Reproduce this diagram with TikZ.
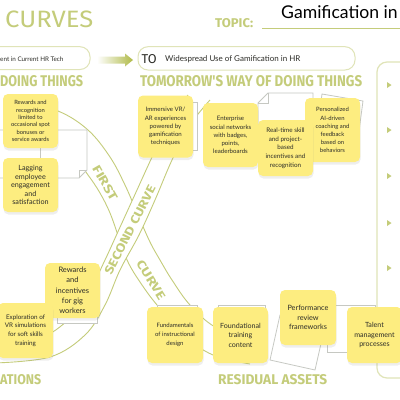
\documentclass[tikz,border=0pt]{standalone}
\usepackage{fontspec}
\setmainfont{Lato}
\newfontfamily\headfont{Fira Sans}
\usetikzlibrary{shadows}
\definecolor{olive}{RGB}{196,204,122}
\definecolor{olivelt}{RGB}{224,228,184}
\definecolor{olivedk}{RGB}{176,186,72}
\definecolor{sticky}{RGB}{253,237,128}
\definecolor{sheetc}{RGB}{198,200,194}
\definecolor{inkc}{RGB}{45,45,40}
\tikzset{
  note/.style={fill=sticky, rounded corners=5pt, align=center, inner sep=0pt, text=inkc,
    drop shadow={opacity=0.13, shadow xshift=0.5pt, shadow yshift=-2.5pt}},
  sheetbox/.style={draw=sheetc, fill=white, line width=0.8pt},
  curveline/.style={draw=olive, line width=0.9pt},
  head/.style={text=olive, inner sep=0pt, font=\headfont\bfseries},
  topbox/.style={draw=olivelt, line width=1pt, rounded corners=10pt},
  bandtext/.style={text=olive, inner sep=0pt, font=\headfont\bfseries}
}
\begin{document}
\begin{tikzpicture}[x=1pt,y=-1pt]
\useasboundingbox (0,0) rectangle (400,400);
\clip (0,0) rectangle (400,400);
\fill[white] (0,0) rectangle (400,400);

% title row
\node[head, font=\headfont, anchor=south west] (title) at (5,28.3) {\resizebox{88pt}{16.6pt}{CURVES}};
\node[head, anchor=south west] (topic) at (215,28.3) {\resizebox{38pt}{9pt}{TOPIC:}};
\coordinate (tl1) at (262,28.3);
\coordinate (tl2) at (400,28.3);
\draw[draw=olive, line width=0.8pt] (tl1) -- (tl2);
\node[anchor=base west, inner sep=0pt, font=\fontsize{17.6}{19}\selectfont, text=black] (topictext) at (281,18) {Gamification in};

% from / to boxes
\draw[topbox] (-15,46.7) rectangle (90,69.5);
\node[anchor=west, inner sep=0pt, font=\fontsize{6.3}{7}\selectfont, text=inkc] (fromtext) at (0,59) {ent in Current HR Tech};
\shade[left color=white, right color=olivedk] (97,56.5) -- (125,56.5) -- (125,53.5) -- (133,60) -- (125,66.5) -- (125,63.5) -- (97,63.5) -- cycle;
\draw[topbox] (138,46.7) rectangle (355,70);
\node[anchor=west, inner sep=0pt, text=inkc, font=\headfont] (tolabel) at (141.5,59) {\resizebox{15pt}{9pt}{TO}};
\node[anchor=west, inner sep=0pt, font=\fontsize{8}{9}\selectfont, text=inkc] (totext) at (165,59) {Widespread Use of Gamification in HR};

% section headings
\node[head, anchor=south west] (h1) at (0,87) {\resizebox{83pt}{11pt}{DOING THINGS}};
\node[head, anchor=south west] (h2) at (140,87) {\resizebox{222pt}{11pt}{TOMORROW'S WAY OF DOING THINGS}};
\node[head, anchor=south west] (h3) at (0,385) {\resizebox{41pt}{10pt}{ATIONS}};
\node[head, anchor=south west] (h4) at (218,385) {\resizebox{109pt}{10pt}{RESIDUAL ASSETS}};

% right panel
\draw[topbox, line width=1.2pt] (377,62) rectangle (430,378);
\foreach \yy [count=\i] in {85,130,176,223,268}{
  \fill[olive] (387,\yy-3) -- (391.5,\yy) -- (387,\yy+3) -- cycle;
}

% first curve band
\draw[curveline] plot[smooth, tension=0.6] coordinates {(15,100) (58,111) (88,130) (110,157) (125,185) (138,215) (150,242) (160,260) (172,280) (190,305) (215,327) (250,340)};
\draw[curveline] plot[smooth, tension=0.6] coordinates {(40,140) (75,160) (88,175) (100,193) (110,213) (119,238) (128,262) (140,282) (157,305) (185,336) (213,355) (250,364)};
\node[bandtext, rotate=-60] (first) at (105,183) {\resizebox{38pt}{8.5pt}{FIRST}};
\node[bandtext, rotate=-58] (curve1) at (151,280) {\resizebox{44pt}{8.5pt}{CURVE}};

% second curve band (ribbon over the first)
\fill[white] plot[smooth, tension=0.6] coordinates {(-5,343) (40,338) (70,318) (90,290) (105,260) (121,225) (137,190) (153,155) (170,120) (188,95)}
  -- plot[smooth, tension=0.6] coordinates {(210,100) (190,125) (172,160) (155,200) (139,235) (120,270) (105,305) (85,335) (50,357) (-5,363)} -- cycle;
\draw[curveline] plot[smooth, tension=0.6] coordinates {(-5,343) (40,338) (70,318) (90,290) (105,260) (121,225) (137,190) (153,155) (170,120) (188,95)};
\draw[curveline] plot[smooth, tension=0.6] coordinates {(-5,363) (50,357) (85,335) (105,305) (120,270) (139,235) (155,200) (172,160) (190,125) (210,100)};
\node[bandtext, rotate=63] (second) at (130,230) {\resizebox{98pt}{8.5pt}{SECOND CURVE}};

% grey sheets
\draw[sheetbox] (-5,130) -- (87,130) -- (87,170) -- (79,178) -- (-5,178) -- cycle;
\draw[sheetc, line width=0.8pt] (79,178) -- (79,170) -- (87,170);
\draw[sheetc, line width=0.8pt] (40,130) -- (40,178);
\draw[sheetbox] (150,102) rectangle (197,150);
\draw[sheetbox] (268,93) -- (313,93) -- (313,125) -- (258,125) -- (258,103) -- cycle;
\draw[sheetc, line width=0.8pt] (258,103) -- (268,103) -- (268,93);
\draw[sheetbox] (322,94) -- (363,101) -- (357,146) -- (316,139) -- cycle;
\draw[sheetbox] (57,270) rectangle (97,323);
\draw[sheetbox] (157,305) rectangle (197,345);
\draw[sheetbox] (218,305) rectangle (265,345);
\draw[sheetbox] (280,315) -- (325,326) -- (315,370) -- (270,360) -- cycle;
\draw[sheetbox] (327,305) rectangle (375,352);

% sticky notes
\node[note, minimum width=55pt, minimum height=54pt, font=\fontsize{5.8}{7.4}\selectfont] (n1) at (30.5,121) {Rewards and\\recognition\\limited to\\occasional spot\\bonuses or\\service awards};
\node[note, minimum width=55pt, minimum height=54pt, font=\fontsize{7.2}{8.6}\selectfont] (n2) at (30.5,185) {Lagging\\employee\\engagement\\and\\satisfaction};
\node[note, minimum width=55pt, minimum height=62pt, font=\fontsize{6.1}{8.2}\selectfont] (n3) at (165.5,126.5) {Immersive VR/\\AR experiences\\powered by\\gamification\\techniques};
\node[note, minimum width=55pt, minimum height=64pt, font=\fontsize{6.1}{8.2}\selectfont] (n4) at (230.5,135) {Enterprise\\social networks\\with badges,\\points,\\leaderboards};
\node[note, minimum width=55pt, minimum height=64pt, font=\fontsize{5.9}{8.1}\selectfont] (n6) at (332.5,130) {Personalized\\AI-driven\\coaching and\\feedback\\based on\\behaviors};
\node[note, minimum width=55pt, minimum height=56pt, font=\fontsize{6.3}{8.7}\selectfont] (n5) at (285.5,148) {Real-time skill\\and project-\\based\\incentives and\\recognition};
\node[note, minimum width=55pt, minimum height=55pt, font=\fontsize{7.5}{10.3}\selectfont] (n7) at (72.5,290.5) {Rewards\\and\\incentives\\for gig\\workers};
\node[note, minimum width=55pt, minimum height=55pt, font=\fontsize{6.3}{8.7}\selectfont] (n8) at (25.5,330.5) {Exploration of\\VR simulations\\for soft skills\\training};
\node[note, minimum width=56pt, minimum height=56pt, font=\fontsize{6}{8.7}\selectfont] (n9) at (175,335) {Fundamentals\\of instructional\\design};
\node[note, minimum width=55pt, minimum height=56pt, font=\fontsize{7.1}{9.5}\selectfont] (n10) at (240.5,335) {Foundational\\training\\content};
\node[note, minimum width=56pt, minimum height=55pt, font=\fontsize{7.3}{9.7}\selectfont] (n11) at (308,317.5) {Performance\\review\\frameworks};
\node[note, minimum width=55pt, minimum height=56pt, font=\fontsize{7.1}{9.5}\selectfont] (n12) at (374.5,335) {Talent\\management\\processes};
\end{tikzpicture}
\end{document}
